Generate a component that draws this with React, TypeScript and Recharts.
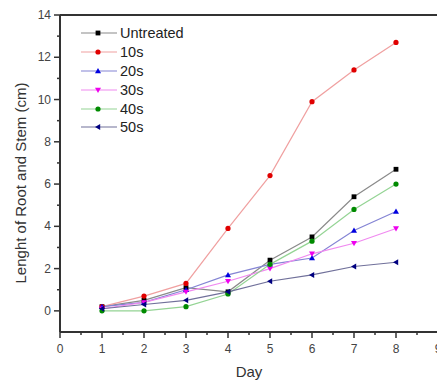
import { LineChart, Line, XAxis, YAxis, ReferenceLine } from 'recharts'

const days = [1, 2, 3, 4, 5, 6, 7, 8]
const untreated = [0.2, 0.5, 1.1, 0.9, 2.4, 3.5, 5.4, 6.7]
const s10 = [0.2, 0.7, 1.3, 3.9, 6.4, 9.9, 11.4, 12.7]
const s20 = [0.2, 0.4, 1.0, 1.7, 2.2, 2.5, 3.8, 4.7]
const s30 = [0.1, 0.4, 0.9, 1.4, 2.0, 2.7, 3.2, 3.9]
const s40 = [0.0, 0.0, 0.2, 0.8, 2.2, 3.3, 4.8, 6.0]
const s50 = [0.1, 0.3, 0.5, 0.9, 1.4, 1.7, 2.1, 2.3]

const xTicks = [0, 0.5, 1, 1.5, 2, 2.5, 3, 3.5, 4, 4.5, 5, 5.5, 6, 6.5, 7, 7.5, 8, 8.5, 9]
const yTicks = [-1, 0, 1, 2, 3, 4, 5, 6, 7, 8, 9, 10, 11, 12, 13, 14]

const series = [
  { key: 'untreated', name: 'Untreated', values: untreated, marker: '#000000', line: '#8a8a8a', shape: 'square' },
  { key: 's10', name: '10s', values: s10, marker: '#e00000', line: '#f0a0a0', shape: 'circle' },
  { key: 's20', name: '20s', values: s20, marker: '#0000e0', line: '#8484d4', shape: 'up' },
  { key: 's30', name: '30s', values: s30, marker: '#ee00ee', line: '#f08af0', shape: 'down' },
  { key: 's40', name: '40s', values: s40, marker: '#008a00', line: '#94d494', shape: 'circle' },
  { key: 's50', name: '50s', values: s50, marker: '#000080', line: '#70709a', shape: 'left' },
]

const data = days.map((d, i) => {
  const row: any = { day: d }
  series.forEach((s) => { row[s.key] = s.values[i] })
  return row
})

const font = 'Arial, "Liberation Sans", sans-serif'
const axisColor = '#333'

function Marker({ cx, cy, shape, color }: any) {
  if (cx == null || cy == null) return null
  const r = 2.4
  if (shape === 'square') return <rect x={cx - r} y={cy - r} width={r * 2} height={r * 2} fill={color} />
  if (shape === 'circle') return <circle cx={cx} cy={cy} r={r + 0.2} fill={color} />
  if (shape === 'up') return <polygon points={`${cx},${cy - 3} ${cx - 3},${cy + 2.2} ${cx + 3},${cy + 2.2}`} fill={color} />
  if (shape === 'down') return <polygon points={`${cx},${cy + 3} ${cx - 3},${cy - 2.2} ${cx + 3},${cy - 2.2}`} fill={color} />
  return <polygon points={`${cx - 3},${cy} ${cx + 2.2},${cy - 3} ${cx + 2.2},${cy + 3}`} fill={color} />
}

const XTick = ({ x, y, payload }: any) => {
  const major = Number.isInteger(payload.value)
  return (
    <g>
      <line x1={x} x2={x} y1={y} y2={y + (major ? 6 : 3)} stroke={axisColor} strokeWidth={1.5} />
      {major && (
        <text x={x} y={y + 21} textAnchor="middle" fontSize={12} fill="#444" fontFamily={font}>{payload.value}</text>
      )}
    </g>
  )
}

const YTick = ({ x, y, payload }: any) => {
  const v = payload.value
  const major = v % 2 === 0
  if (v === -1) return null
  return (
    <g>
      <line x1={x} x2={x - (major ? 6 : 3)} y1={y} y2={y} stroke={axisColor} strokeWidth={1.5} />
      {major && (
        <text x={x - 9} y={y + 4} textAnchor="end" fontSize={12} fill="#444" fontFamily={font}>{v}</text>
      )}
    </g>
  )
}

const YLabel = () => (
  <text
    transform="translate(26,183) rotate(-90)"
    textAnchor="middle"
    fontSize={15}
    fill="#333"
    fontFamily={font}
  >
    Lenght of Root and Stem (cm)
  </text>
)

const LegendBox = () => (
  <div style={{ position: 'absolute', left: 81, top: 24, fontFamily: font }}>
    {series.map((s) => (
      <div key={s.key} style={{ display: 'flex', alignItems: 'center', height: 18.8 }}>
        <svg width={36} height={12}>
          <line x1={0} x2={36} y1={6} y2={6} stroke={s.line} strokeWidth={1.2} />
          <Marker cx={17} cy={6} shape={s.shape} color={s.marker} />
        </svg>
        <span style={{ fontSize: 14.5, color: '#222', marginLeft: 3 }}>{s.name}</span>
      </div>
    ))}
  </div>
)

export default function App() {
  return (
    <div style={{ position: 'absolute', left: 0, top: 0, width: 437, height: 380, overflow: 'hidden', background: '#fff' }}>
      <LineChart width={452} height={380} data={data} margin={{ top: 15, right: 14, bottom: 0, left: 0 }}>
        <XAxis
          dataKey="day"
          type="number"
          domain={[0, 9]}
          ticks={xTicks}
          interval={0}
          tickSize={0}
          tickMargin={0}
          tickLine={false}
          tick={<XTick />}
          height={48}
          stroke={axisColor}
          strokeWidth={2}
          label={{ value: 'Day', position: 'insideBottom', offset: 3, fontSize: 15, fill: '#333', fontFamily: font }}
        />
        <YAxis
          type="number"
          domain={[-1, 14]}
          ticks={yTicks}
          interval={0}
          tickSize={0}
          tickMargin={0}
          tickLine={false}
          tick={<YTick />}
          width={60}
          stroke={axisColor}
          strokeWidth={2}
          label={<YLabel />}
        />
        <ReferenceLine y={14} stroke={axisColor} strokeWidth={2} />
        <ReferenceLine x={9} stroke={axisColor} strokeWidth={2} />
        {series.map((s) => (
          <Line
            key={s.key}
            dataKey={s.key}
            name={s.name}
            stroke={s.line}
            strokeWidth={1.2}
            isAnimationActive={false}
            dot={(p: any) => <Marker key={`${s.key}-${p.index}`} cx={p.cx} cy={p.cy} shape={s.shape} color={s.marker} />}
            activeDot={false}
          />
        ))}
      </LineChart>
      <LegendBox />
    </div>
  )
}
